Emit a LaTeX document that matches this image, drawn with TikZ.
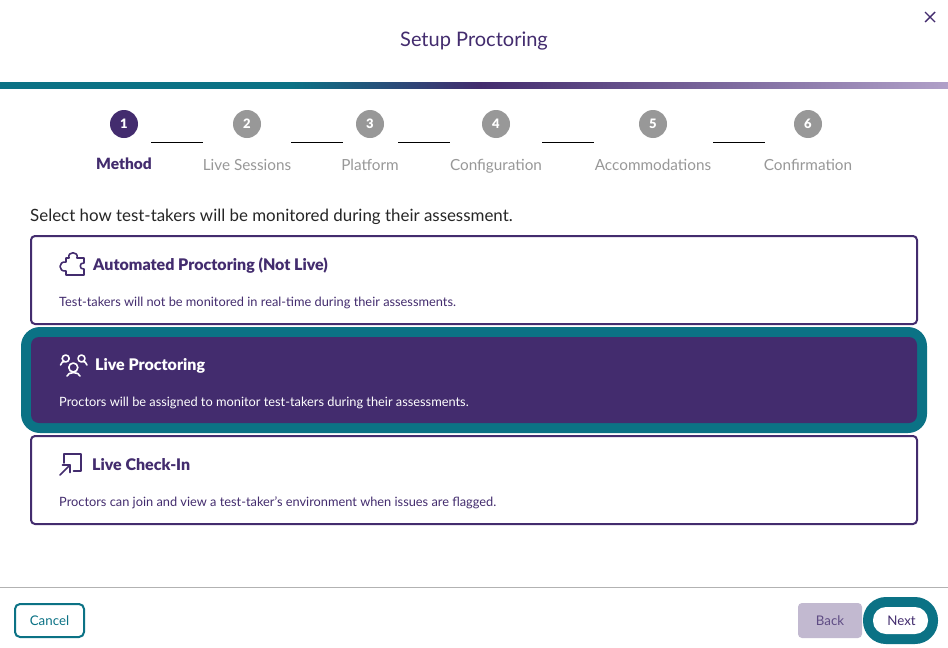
\documentclass[tikz,border=0pt]{standalone}
\usepackage{fontspec}
\setmainfont{Lato}[BoldFont={Lato Black}]
\usetikzlibrary{positioning}
\definecolor{brandteal}{HTML}{0B7285}
\definecolor{brandpurple}{HTML}{432C6E}
\definecolor{brandlight}{HTML}{B0A0C8}
\definecolor{stepgray}{HTML}{989898}
\definecolor{backfill}{HTML}{C2B9D0}
\pgfdeclarehorizontalshading{barshade}{100bp}{color(0bp)=(brandteal); color(40.3bp)=(brandteal); color(50.3bp)=(brandpurple); color(75bp)=(brandlight); color(100bp)=(brandlight)}
\tikzset{
    stepdot/.style={circle,fill=stepgray,text=white,minimum size=28pt,inner sep=0pt,font=\fontsize{13}{13}\selectfont\bfseries},
    steplabel/.style={anchor=base,text=stepgray,inner sep=0pt,font=\fontsize{15.3}{15.3}\selectfont},
    stepline/.style={draw=black,line width=1pt},
    cardbox/.style={draw=brandpurple,line width=2pt,rounded corners=4pt,fill=white},
    cardtitle/.style={anchor=base west,inner sep=0pt,text=brandpurple,font=\fontsize{16}{16}\selectfont\bfseries},
    cardtext/.style={anchor=base west,inner sep=0pt,text=brandpurple,font=\fontsize{12.8}{12.8}\selectfont},
    iconline/.style={line width=1.6pt,line cap=round,line join=round},
    btntext/.style={inner sep=0pt,font=\fontsize{13.3}{13.3}\selectfont}
}
\begin{document}
\begin{tikzpicture}[x=1pt,y=-1pt]
    \useasboundingbox (0,0) rectangle (948,648);
    \fill[white] (0,0) rectangle (948,648);

    % header
    \node[text=brandpurple,inner sep=0pt,font=\fontsize{20}{20}\selectfont] (title) at (474,41) {Setup Proctoring};
    \coordinate (closeA) at (925,12); \coordinate (closeB) at (935,22);
    \coordinate (closeC) at (925,22); \coordinate (closeD) at (935,12);
    \draw[brandpurple,line width=1.4pt] (closeA) -- (closeB); \draw[brandpurple,line width=1.4pt] (closeC) -- (closeD);
    \shade[shading=barshade] (0,82) rectangle (948,88);

    % steps
    \node[stepdot,fill=brandpurple] (one) at (124,124) {1};
    \node[stepdot] (two) at (247,124) {2};
    \node[stepdot] (three) at (370,124) {3};
    \node[stepdot] (four) at (496,124) {4};
    \node[stepdot] (five) at (653,124) {5};
    \node[stepdot] (six) at (808,124) {6};

    \node[steplabel,text=brandpurple,font=\fontsize{15.5}{15.5}\selectfont\bfseries] (method) at (124,169) {Method};
    \node[steplabel] (sessions) at (247,170) {Live Sessions};
    \node[steplabel] (platform) at (370,170) {Platform};
    \node[steplabel] (config) at (496,170) {Configuration};
    \node[steplabel] (accom) at (653,170) {Accommodations};
    \node[steplabel] (confirm) at (808,170) {Confirmation};

    \draw[stepline] (151,142.5) -- (203,142.5); \draw[stepline] (291,142.5) -- (343,142.5);
    \draw[stepline] (398,142.5) -- (450,142.5); \draw[stepline] (542,142.5) -- (594,142.5);
    \draw[stepline] (713,142.5) -- (765,142.5);

    \node[anchor=west,inner sep=0pt,text=black!85,font=\fontsize{16.9}{16.9}\selectfont] (prompt) at (30,216.5) {Select how test-takers will be monitored during their assessment.};

    % automated card
    \draw[cardbox] (31,236) rectangle (917,324);
    \node[cardtitle] (autotitle) at (93,270.5) {Automated Proctoring (Not Live)};
    \node[cardtext] (autotext) at (59,306.5) {Test-takers will not be monitored in real-time during their assessments.};
    \draw[brandpurple,iconline] (66,275) -- (84,275) -- (84,269) .. controls (79,270) and (79,262) .. (84,263) -- (84,258) -- (77,258) .. controls (79,251) and (67,251) .. (69,258) -- (66,258) -- (66,262) .. controls (58,261) and (58,272) .. (66,271) -- cycle;

    % live card
    \fill[brandteal,rounded corners=19pt] (21,327) rectangle (927,433);
    \fill[brandpurple,rounded corners=8pt] (31,337) rectangle (917,423);
    \node[cardtitle,text=white] (livetitle) at (95,370.5) {Live Proctoring};
    \node[cardtext,text=white] (livetext) at (59,406.5) {Proctors will be assigned to monitor test-takers during their assessments.};
    \draw[white,iconline] (73.3,367.5) circle (4.5pt);
    \draw[white,iconline] (67,376) .. controls (68,371.5) and (79,371.5) .. (80,376);
    \draw[white,iconline] (60.5,365) .. controls (61.5,362) and (63,361.5) .. (64.5,361.5); \draw[white,iconline] (87,365) .. controls (86,362) and (84.5,361.5) .. (83,361.5);
    \draw[white,iconline] (65.7,358.5) circle (3.5pt); \draw[white,iconline] (81.5,358.5) circle (3.5pt);

    % check-in card
    \draw[cardbox] (31,436) rectangle (917,524);
    \node[cardtitle] (checktitle) at (92,470.5) {Live Check-In};
    \node[cardtext] (checktext) at (59,506.5) {Proctors can join and view a test-taker's environment when issues are flagged.};
    \draw[brandpurple,iconline] (64,463) -- (64,454) -- (81,454) -- (81,471) -- (73.5,471);
    \draw[brandpurple,iconline] (60,475) -- (70,465); \draw[brandpurple,iconline] (62.5,465) -- (70,465) -- (70,472.5);

    % footer
    \draw[black!30,line width=1pt] (0,587.5) -- (948,587.5);
    \draw[brandteal,line width=2pt,rounded corners=5pt] (15,604) rectangle (84,637);
    \node[btntext,text=brandteal] (cancel) at (49.5,620.5) {Cancel};
    \fill[backfill,rounded corners=4pt] (798,603) rectangle (862,638);
    \node[btntext,text=brandpurple!85] (back) at (830,620.5) {Back};
    \fill[brandteal,rounded corners=23pt] (863,597) rectangle (938,644);
    \fill[white,rounded corners=13pt] (873,607) rectangle (928,634);
    \node[btntext,text=brandpurple] (next) at (901.5,620.5) {Next};
\end{tikzpicture}
\end{document}
